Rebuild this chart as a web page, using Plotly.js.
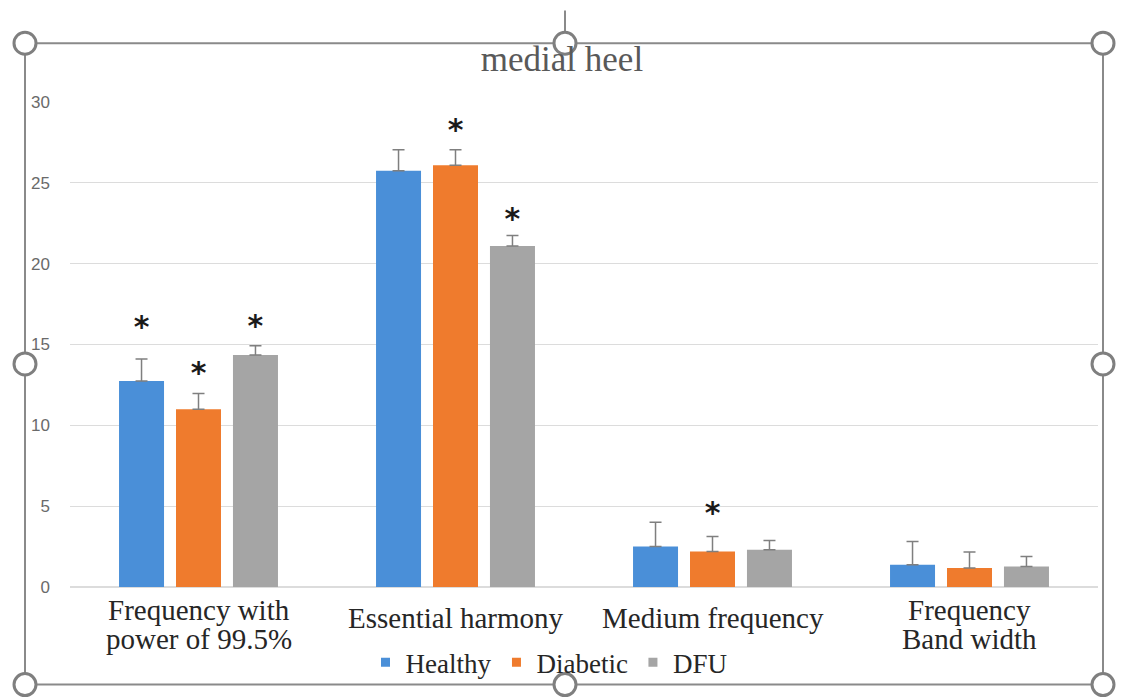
<!DOCTYPE html>
<html>
<head>
<meta charset="utf-8">
<script src="https://cdn.plot.ly/plotly-3.0.1.min.js"></script>
<style>html,body{margin:0;padding:0;background:#fff;}#chart{width:1121px;height:699px;}</style>
</head>
<body>
<div id="chart"></div>
<script>
// ---- data ----
const categories = ["Frequency with<br>power of 99.5%", "Essential harmony", "Medium frequency", "Frequency<br>Band width"];
const seriesNames = ["Healthy", "Diabetic", "DFU"];
const healthy = [12.75, 25.75, 2.5, 1.37];
const healthyErr = [1.35, 1.3, 1.5, 1.45];
const diabetic = [11.0, 26.08, 2.2, 1.17];
const diabeticErr = [0.97, 0.97, 0.92, 1.0];
const dfu = [14.35, 21.09, 2.3, 1.27];
const dfuErr = [0.58, 0.66, 0.58, 0.62];
// significance asterisk positions (y) per series; null = none
const healthyStar = [16.4, null, null, null];
const diabeticStar = [13.55, 28.59, 4.9, null];
const dfuStar = [16.45, 23.04, null, null];
const yTicks = [0, 5, 10, 15, 20, 25, 30];

// ---- style ----
const colors = ["#4a8fd8", "#ef7b2d", "#a5a5a5"];
const serif = "Liberation Serif";
const catKeys = ["c1", "c2", "c3", "c4"];

const values = [healthy, diabetic, dfu];
const errs = [healthyErr, diabeticErr, dfuErr];
const stars = [healthyStar, diabeticStar, dfuStar];

const traces = [];
seriesNames.forEach((name, i) => {
  traces.push({
    type: "bar", x: catKeys, y: values[i], name: name,
    offsetgroup: "g" + i, showlegend: false,
    marker: {color: colors[i], line: {width: 0}},
    error_y: {type: "data", symmetric: false, array: errs[i], arrayminus: errs[i].map(() => 0),
      color: "#7f7f7f", thickness: 1.5, width: 6},
    hoverinfo: "skip"
  });
});
seriesNames.forEach((name, i) => {
  traces.push({
    type: "scatter", mode: "text", x: catKeys, y: stars[i].map(v => v === null ? null : v - 0.45),
    text: stars[i].map(v => v === null ? "" : "<b>*</b>"),
    textfont: {family: "DejaVu Sans", size: 30, color: "#1a1a1a", weight: "bold"},
    offsetgroup: "g" + i, showlegend: false, cliponaxis: false, hoverinfo: "skip"
  });
});
seriesNames.forEach((name, i) => {
  traces.push({
    type: "scatter", mode: "markers", x: [null], y: [null], name: name,
    marker: {symbol: "square", size: 9, color: colors[i]}, showlegend: true, hoverinfo: "skip"
  });
});

// geometry helpers (pixel -> paper)
const L = 70, R = 1098, T = 102, B = 589;
const px = v => (v - L) / (R - L);
const py = v => (B - v) / (B - T);

const shapes = [
  {type: "rect", xref: "paper", yref: "paper", x0: px(25), x1: px(1103), y0: py(687), y1: py(43),
   line: {color: "#8a8a8a", width: 2}, fillcolor: "rgba(0,0,0,0)", layer: "above"},
  {type: "line", xref: "paper", yref: "paper", x0: px(565), x1: px(565), y0: py(31), y1: py(10),
   line: {color: "#8a8a8a", width: 2}}
];
const handles = [[25,43],[565,43],[1103,43],[25,365],[1103,365],[25,687],[565,687],[1103,687]];
handles.forEach(([hx, hy]) => {
  shapes.push({type: "circle", xref: "paper", yref: "paper", xsizemode: "pixel", ysizemode: "pixel",
    xanchor: px(hx), yanchor: py(hy), x0: -11, x1: 11, y0: -11, y1: 11,
    line: {color: "#7f7f7f", width: 3}, fillcolor: "#ffffff", layer: "above"});
});

// category labels: one annotation per text line, Excel-like line spacing
const annotations = [];
categories.forEach((c, i) => {
  const lines = c.split("<br>");
  const first = lines.length > 1 ? 612 : 620;
  lines.forEach((ln, k) => {
    annotations.push({
      xref: "x", yref: "paper", x: catKeys[i], y: py(first + k * 29), text: ln, showarrow: false,
      xanchor: "center", yanchor: "middle", align: "center",
      font: {family: serif, size: 29, color: "#262626"}
    });
  });
});

const layout = {
  width: 1121, height: 699,
  margin: {l: L, r: 1121 - R, t: T, b: 699 - B},
  paper_bgcolor: "#ffffff", plot_bgcolor: "#ffffff",
  font: {family: serif, color: "#262626"},
  title: {text: "medial heel", font: {family: serif, size: 35, color: "#595959"},
    x: px(562), xref: "paper", xanchor: "center", y: 1 - 59 / 699, yref: "container", yanchor: "middle"},
  barmode: "group", bargap: 0.335, bargroupgap: 0.21,
  scattermode: "group", scattergap: 0.335,
  showlegend: true,
  legend: {orientation: "h", x: px(549), xanchor: "center", y: py(665), yanchor: "middle",
    font: {family: serif, size: 27, color: "#262626"}, itemwidth: 30, tracegroupgap: 0,
    bgcolor: "rgba(0,0,0,0)"},
  xaxis: {type: "category", categoryarray: catKeys, showticklabels: false, showgrid: false,
    zeroline: false, showline: false, ticks: "", fixedrange: true},
  yaxis: {range: [0, 30], tickvals: yTicks, ticktext: yTicks.map(String), showgrid: true,
    gridcolor: "#dcdcdc", gridwidth: 1.2, zeroline: true, zerolinecolor: "#dcdcdc", zerolinewidth: 1.2,
    showline: false, ticks: "", ticklabelstandoff: 19,
    tickfont: {family: "Liberation Sans", size: 17, color: "#6a6a6a"}, fixedrange: true},
  shapes: shapes, annotations: annotations
};

Plotly.newPlot("chart", traces, layout, {staticPlot: true, displayModeBar: false});
</script>
</body>
</html>
